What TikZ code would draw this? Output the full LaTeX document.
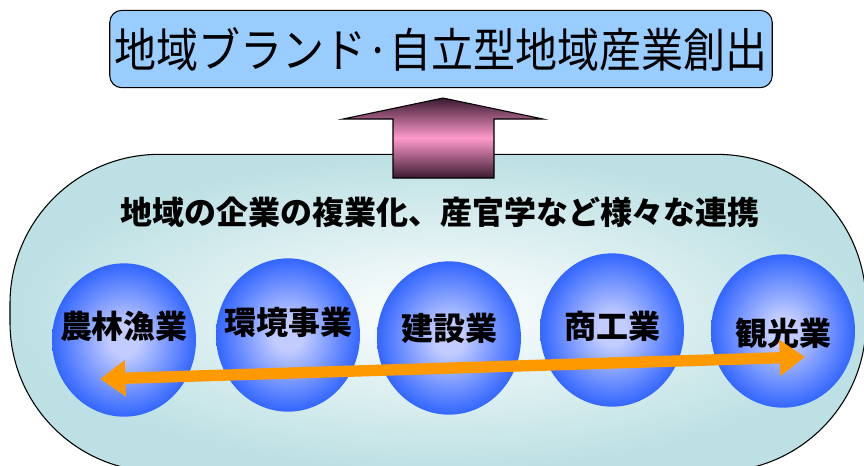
\documentclass[tikz,border=0pt]{standalone}
\usepackage{fontspec}
\setmainfont{Noto Sans CJK JP}
\newfontfamily\goalfont{Noto Sans CJK JP}[FakeStretch=0.9]
\usetikzlibrary{arrows.meta}
\usetikzlibrary{shapes.geometric}
\definecolor{goalblue}{HTML}{99CCFF}
\definecolor{bandteal}{HTML}{BCE0E3}
\definecolor{balllight}{HTML}{C2CCFF}
\definecolor{balldark}{HTML}{3366FF}
\definecolor{arrowpink}{HTML}{FF99CC}
\definecolor{arrowdark}{HTML}{3A1A30}
\definecolor{linkorange}{HTML}{FF9900}
\pgfdeclareradialshading{ballshade}{\pgfpoint{0bp}{0bp}}{%
   color(0bp)=(balllight); color(5bp)=(balllight);
   color(25bp)=(balldark); color(50bp)=(balldark)}
\tikzstyle{goal}=[
   rectangle,
   rounded corners=9pt,
   draw=black,
   line width=0.8pt,
   fill=goalblue,
   minimum width=496pt,
   minimum height=58pt,
   font=\goalfont\fontsize{35pt}{40pt}\selectfont
]
\tikzstyle{band}=[
   rectangle,
   rounded corners=112pt,
   draw=black,
   line width=0.8pt,
   inner color=white,
   outer color=bandteal,
   minimum width=642pt,
   minimum height=238pt
]
\tikzstyle{uparrow}=[
   draw=black,
   line width=0.8pt,
   top color=arrowdark,
   bottom color=arrowdark,
   middle color=arrowpink
]
\tikzstyle{sphere}=[
   ellipse,
   shading=ballshade,
   minimum width=108pt,
   minimum height=115pt,
   inner sep=0pt
]
\tikzstyle{caption}=[
   font=\bfseries\fontsize{24pt}{28pt}\selectfont
]
\tikzstyle{ballname}=[
   font=\bfseries\fontsize{24pt}{28pt}\selectfont
]
\tikzstyle{link}=[
   draw=linkorange,
   line width=8.5pt,
   arrows={Triangle[length=19pt,width=26pt]-Triangle[length=19pt,width=26pt]}
]

\begin{document}
\begin{tikzpicture}[x=0.75pt, y=-0.75pt]
   \useasboundingbox (0,0) rectangle (864,465);
   \clip (0,0) rectangle (864,465);

   % background band and target
   \node (band) [band] at (438,313) {};
   \node (goal) [goal] at (441,49) {地域ブランド·自立型地域産業創出};

   \draw[uparrow] (443,98) -- (543,119) -- (494,119) -- (494,178)
      -- (393,178) -- (393,119) -- (343,119) -- cycle;

   \node (title) [caption] at (440,212) {地域の企業の複業化、産官学など様々な連携};

   % industries
   \node (1) [sphere] at (124,340) {};
   \node (2) [sphere] at (288,335) {};
   \node (3) [sphere] at (449,338) {};
   \node (4) [sphere] at (612,330) {};
   \node (5) [sphere] at (783,331) {};

   \node (t1) [ballname] at (124,326) {農林漁業};
   \node (t2) [ballname] at (288,322) {環境事業};
   \node (t3) [ballname] at (449,328) {建設業};
   \node (t4) [ballname] at (612,326) {商工業};
   \node (t5) [ballname] at (783,333) {観光業};

   \coordinate (left) at (100,379);
   \coordinate (right) at (805,357);
   \draw[link] (left) -- (right);
\end{tikzpicture}
\end{document}
